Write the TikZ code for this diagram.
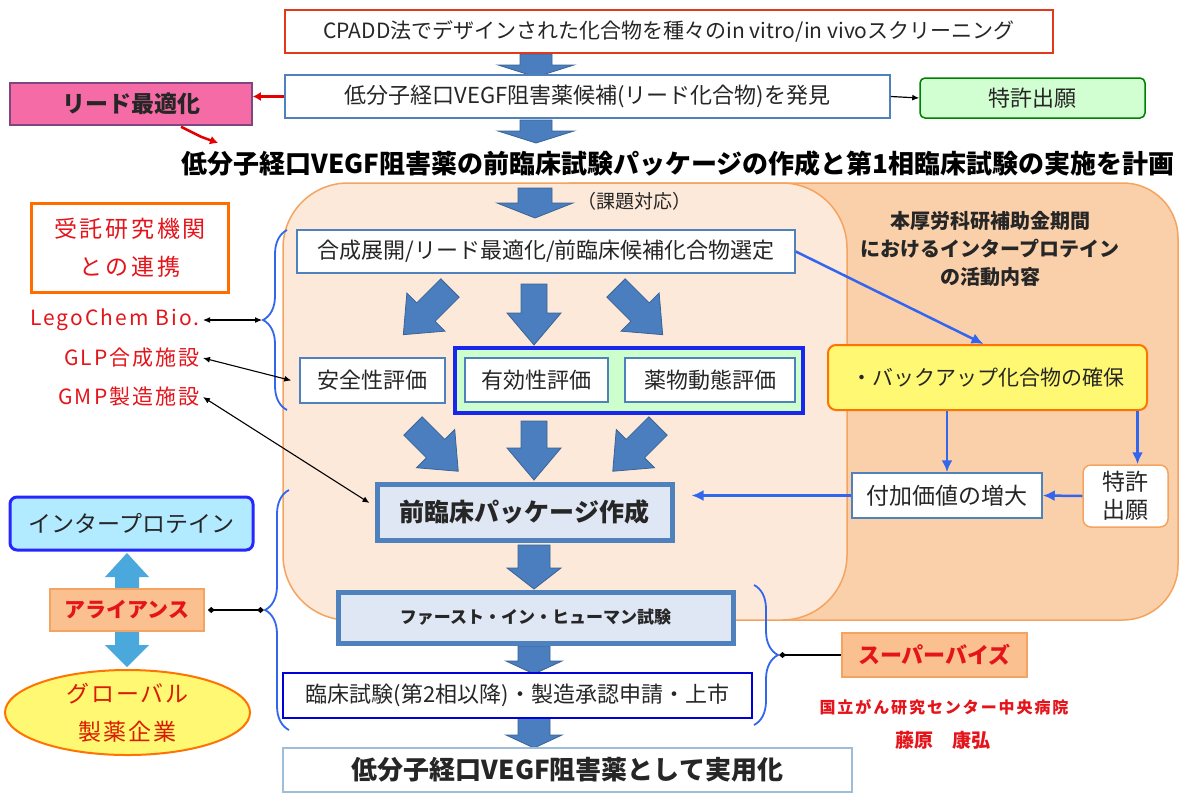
\documentclass[tikz,border=0pt]{standalone}
\usepackage{fontspec}
\setmainfont{Noto Sans CJK JP}
\usetikzlibrary{arrows.meta,decorations.pathreplacing,shapes.geometric,calc}
\definecolor{boxblue}{HTML}{4F81BD}
\definecolor{arrfill}{HTML}{4A7EBF}
\definecolor{arrline}{HTML}{3A6496}
\definecolor{txt}{HTML}{262626}
\definecolor{redtxt}{HTML}{E5141B}
\definecolor{peachdark}{HTML}{FAD0AB}
\definecolor{peachlight}{HTML}{FDE9D9}
\definecolor{orangeline}{HTML}{F4A460}
\definecolor{orangebox}{HTML}{FAC08F}
\definecolor{linkblue}{HTML}{3366EE}
\definecolor{tipblue}{HTML}{4AA8DC}
\newcommand{\fsz}[2]{\fontsize{#1}{#2}\selectfont}
\newcommand{\lsp}[1]{\addfontfeatures{LetterSpace=#1}}
\newcommand{\blockarrow}[7]{%
  \filldraw[bigarrow,shift={(#1,#2)},rotate=#3] (-#5,0) -- (#5,0) -- (#5,{#4-#7}) -- (#6,{#4-#7}) -- (0,#4) -- (-#6,{#4-#7}) -- (-#5,{#4-#7}) -- cycle;}
\begin{document}
\begin{tikzpicture}[x=1pt,y=-1pt,
  bigarrow/.style={fill=arrfill,draw=arrline,line width=0.8},
  box/.style={draw=boxblue,line width=1.5,fill=white,inner sep=0,align=center,text=txt,font=\fsz{22}{26}},
  thickbox/.style={draw=boxblue,line width=5,fill=blue!4!boxblue!18,inner sep=0,align=center,text=txt},
  orbox/.style={draw=orangeline,line width=1.5,fill=orangebox,inner sep=0,align=center,text=redtxt},
  redlbl/.style={text=redtxt,inner sep=0,font=\fsz{21}{25}\lsp{10}},
  redarrow/.style={draw=red!90!black,line width=2.5,-{Latex[length=8pt,width=9pt]}},
  blarrow/.style={draw=linkblue,line width=2.5,-{Latex[length=12pt,width=11pt]}},
  blkarrow/.style={draw=black,line width=1.1,{Latex[length=7pt,width=6pt]}-{Latex[length=7pt,width=6pt]}},
  dmdline/.style={draw=black,line width=1.1,{Diamond[length=7pt,width=6pt]}-{Diamond[length=7pt,width=6pt]}},
  bracestyle/.style={draw=linkblue,line width=1.8,decorate,decoration={brace,amplitude=24}}
]
\useasboundingbox (0,0) rectangle (1182,793);
\fill[white] (0,0) rectangle (1182,793);

% background regions
\filldraw[fill=peachdark,draw=orangeline,line width=1.5,rounded corners=55] (520,183) rectangle (1178,620);
\filldraw[fill=peachlight,draw=orangeline,line width=1.5,rounded corners=65] (283,183) rectangle (847,620);

% big block arrows
\blockarrow{536}{54}{0}{23}{16}{38}{12}
\blockarrow{536}{120}{0}{23}{16}{38}{12}
\blockarrow{535}{188}{0}{30}{17}{38}{15}
\blockarrow{450}{288}{-45}{66}{13}{27}{32}
\blockarrow{534}{284}{0}{61}{13}{27}{32}
\blockarrow{616}{288}{45}{66}{13}{27}{32}
\blockarrow{413}{426}{45}{64}{13}{27}{32}
\blockarrow{534}{421}{0}{59}{13}{27}{32}
\blockarrow{658}{426}{-45}{64}{13}{27}{32}
\blockarrow{534}{545}{0}{44}{16}{27}{21}
\blockarrow{534}{646}{0}{28}{16}{28}{13}
\blockarrow{534}{718}{0}{30}{16}{28}{13}

% top part
\node[box,draw=red!55!brown,minimum width=768,minimum height=43,font=\fsz{21}{25}] (screen) at (669,31.5) {CPADD法でデザインされた化合物を種々のin vitro/in vivoスクリーニング};
\node[box,minimum width=605,minimum height=43] (lead) at (587.5,96.5) {低分子経口VEGF阻害薬候補(リード化合物)を発見};
\node[box,draw=violet!45!gray,fill=magenta!45!pink,minimum width=242,minimum height=42,font=\fsz{23}{27}\bfseries] (leadopt) at (131,104) {リード最適化};
\node[box,draw=green!50!black,fill=green!18,rounded corners=5,minimum width=225,minimum height=40] (pat1) at (1032.5,98) {特許出願};
\node[inner sep=0,text=black,font=\fsz{26}{30}\bfseries] (heading) at (678,164) {低分子経口VEGF阻害薬の前臨床試験パッケージの作成と第1相臨床試験の実施を計画};
\coordinate (headpt) at (218,143);

% inner flow
\node[inner sep=0,text=txt,font=\fsz{19}{23}] (kadai) at (634,201) {（課題対応）};
\node[box,minimum width=498,minimum height=43] (synth) at (546,251.5) {合成展開/リード最適化/前臨床候補化合物選定};
\node[box,minimum width=145,minimum height=45] (safety) at (372.5,380.5) {安全性評価};
\node[draw=blue!70!boxblue,line width=3.5,fill=green!20!white,minimum width=348,minimum height=65,inner sep=0] (group) at (629,380.5) {};
\node[box,minimum width=143,minimum height=44] (effic) at (536.5,380) {有効性評価};
\node[box,minimum width=170,minimum height=44] (pk) at (710,380) {薬物動態評価};
\node[thickbox,minimum width=295,minimum height=56,font=\fsz{25}{29}\bfseries] (pkg) at (524.5,512) {前臨床パッケージ作成};
\node[thickbox,minimum width=395,minimum height=51,font=\fsz{17}{21}\bfseries] (fih) at (535.5,617.5) {ファースト・イン・ヒューマン試験};
\node[box,draw=blue!85!black,line width=2,minimum width=469,minimum height=45] (clin) at (517.5,695.5) {臨床試験(第2相以降)・製造承認申請・上市};
\node[box,draw=cyan!25!boxblue!55,line width=2,minimum width=569,minimum height=44,font=\fsz{26}{30}\bfseries] (final) at (567.5,770) {低分子経口VEGF阻害薬として実用化};

% right part
\node[inner sep=0,text=txt,align=center,font=\fsz{20}{28}\bfseries] (rtitle) at (990,249) {本厚労科研補助金期間\\におけるインタープロテイン\\の活動内容};
\node[box,draw=orange!90!red,line width=2,fill=yellow!55,rounded corners=8,minimum width=319,minimum height=65,font=\fsz{21}{25}] (backup) at (987.5,377.5) {・バックアップ化合物の確保};
\node[box,minimum width=190,minimum height=45,font=\fsz{23}{27}] (value) at (947,495.5) {付加価値の増大};
\node[box,draw=orangeline,rounded corners=8,minimum width=85,minimum height=62,font=\fsz{23}{28}] (pat2) at (1125.5,496) {特許\\出願};

% left part
\node[box,draw=orange!85!red,line width=3,text=redtxt,minimum width=197,minimum height=89,font=\fsz{23}{38}\lsp{12}] (cro) at (130,247.5) {受託研究機関\\との連携};
\node[redlbl,anchor=east] (lego) at (200,320) {LegoChem Bio.};
\node[redlbl,anchor=east] (glp) at (200,358) {GLP合成施設};
\node[redlbl,anchor=east] (gmp) at (200,397) {GMP製造施設};
\node[box,draw=blue!85!white,line width=3,fill=blue!28!cyan!30,rounded corners=7,minimum width=243,minimum height=53,font=\fsz{23}{27}] (ip) at (131.5,523.5) {インタープロテイン};
\shade[top color=tipblue,middle color=boxblue,bottom color=tipblue] (127,553) -- (149,577) -- (139,577) -- (139,645) -- (149,645) -- (127,667) -- (105,645) -- (115,645) -- (115,577) -- (105,577) -- cycle;
\node[orbox,minimum width=154,minimum height=42,font=\fsz{21}{25}\bfseries] (alliance) at (127,610) {アライアンス};
\node[ellipse,draw=orange!90!red,line width=2,fill=yellow!55,minimum width=245,minimum height=85,inner sep=0,align=center,text=red!75!orange!85!black,font=\fsz{23}{38}\lsp{8}] (global) at (127.5,712.5) {グローバル\\製薬企業};
\node[orbox,minimum width=185,minimum height=44,font=\fsz{22}{26}\bfseries] (superv) at (934.5,655) {スーパーバイズ};
\node[inner sep=0,text=redtxt,font=\fsz{16}{19}\bfseries\lsp{12}] (ncc) at (944,707) {国立がん研究センター中央病院};
\node[inner sep=0,text=redtxt,font=\fsz{19}{22}\bfseries] (fuji) at (943,740) {藤原　康弘};

% braces
\draw[bracestyle] (287,410) -- (287,230);
\draw[bracestyle] (289,730) -- (289,490);
\draw[bracestyle] (754,585) -- (754,725);
\coordinate (b1tip) at (262,320);
\coordinate (b2tip) at (264,610);
\coordinate (b3tip) at (779,655);

% connectors
\draw[redarrow] (lead.west) -- (lead.west -| leadopt.east);
\draw[redarrow] ($(leadopt.south)+(50,1)$) -- ++(20,10) -- (headpt);
\draw[draw=black,line width=1.2,-{Latex[length=7pt,width=6pt]}] (lead.east) -- (pat1.west);
\draw[blarrow] (synth.east) -- ($(backup.north)+(-4,0)$);
\draw[blarrow] (value.north |- backup.south) -- (value.north);
\draw[blarrow] ($(pat2.north |- backup.south)+(12,0)$) -- ($(pat2.north)+(12,0)$);
\draw[blarrow] (pat2.west) -- (value.east);
\draw[blarrow,shorten >=17] (value.west) -- (value.west -| pkg.east);
\draw[blkarrow] ($(lego.east)+(3,0)$) -- (b1tip);
\draw[blkarrow] ($(glp.east)+(3,0)$) -- ($(safety.west)+(-8,0)$);
\draw[blkarrow] ($(gmp.east)+(3,0)$) -- ($(pkg.west)+(-5,-9)$);
\draw[dmdline] ($(alliance.east)+(3,0)$) -- (b2tip);
\draw[draw=black,line width=1.1,{Diamond[length=7pt,width=6pt]}-] (b3tip) -- (superv.west);
\end{tikzpicture}
\end{document}
